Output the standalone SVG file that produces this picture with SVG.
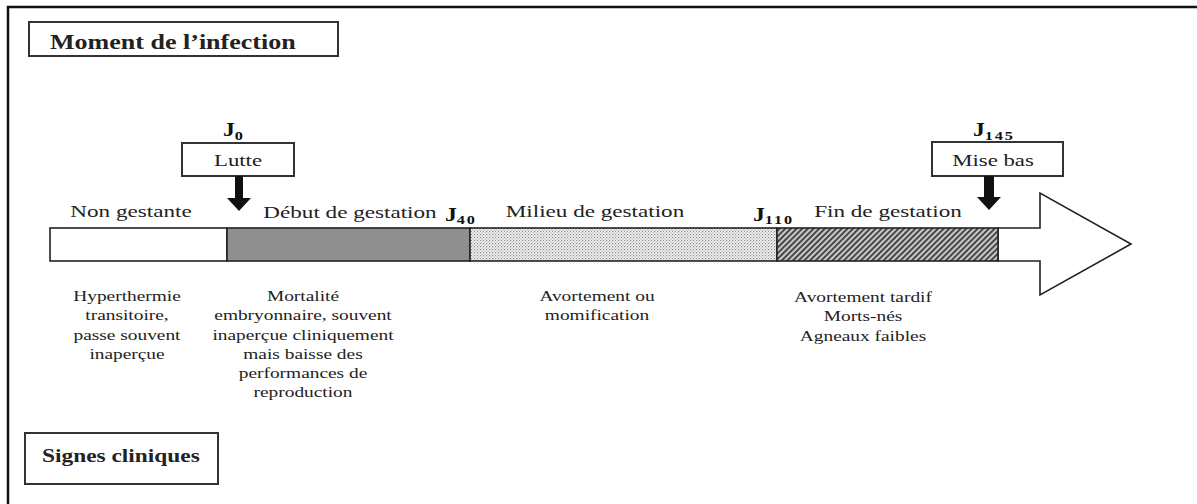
<svg xmlns="http://www.w3.org/2000/svg" width="1197" height="504" viewBox="0 0 1197 504">
<defs>
<style>
text{font-family:"Liberation Serif","Times New Roman",serif}
.t{fill:#222}
.b{font-weight:bold}
.lab{font-size:17px}
.body{font-size:15.5px}
.box{fill:#fff;stroke:#333;stroke-width:2}
.seg{stroke:#222;stroke-width:1.6}
.jj{font-weight:bold;font-size:19px;fill:#111}
</style>
<pattern id="dots" width="3" height="3" patternUnits="userSpaceOnUse">
<rect width="3" height="3" fill="#f4f4f4"/>
<rect x="0" y="0" width="1.2" height="1.2" fill="#8a8a8a"/>
<rect x="1.5" y="1.5" width="1.2" height="1.2" fill="#a8a8a8"/>
</pattern>
<pattern id="hatch" width="4" height="4" patternUnits="userSpaceOnUse" patternTransform="rotate(45)">
<rect width="4" height="4" fill="#c8c8c8"/>
<rect x="0" y="0" width="1.8" height="4" fill="#3a3a3a"/>
</pattern>
</defs>
<rect width="1197" height="504" fill="#fff"/>
<g id="frame"><path d="M8,504 V7 H1197" fill="none" stroke="#111" stroke-width="2.5"/></g>

<g id="title-moment">
<rect class="box" x="29" y="22" width="309" height="34"/>
<text class="t b" font-size="21" transform="translate(50,49) scale(1.24,1)">Moment de l’infection</text>
</g>

<g id="title-signes">
<rect class="box" x="25" y="433" width="193" height="51"/>
<text class="t b" font-size="19.5" transform="translate(42,462) scale(1.2,1)">Signes cliniques</text>
</g>

<g id="node-lutte">
<text class="jj" transform="translate(223,136) scale(1.25,1)">J<tspan font-size="13" dy="4" letter-spacing="1">0</tspan></text>
<rect class="box" x="182" y="143" width="112" height="33" stroke="#222"/>
<text class="t lab" font-family="Liberation Serif, serif" text-anchor="middle" transform="translate(238,166) scale(1.34,1)">Lutte</text>
</g>

<g id="node-misebas">
<text class="jj" transform="translate(973,136) scale(1.25,1)">J<tspan font-size="13" dy="4" letter-spacing="1.5">145</tspan></text>
<rect class="box" x="932" y="142" width="131" height="34" stroke="#222"/>
<text class="t lab" font-family="Liberation Serif, serif" text-anchor="middle" transform="translate(993,166) scale(1.34,1)">Mise bas</text>
</g>

<g id="timeline-arrow">
<polygon points="998,228 1040,228 1040,193 1131,244 1040,295 1040,261 998,261" fill="#fff" stroke="#222" stroke-width="1.6"/>
</g>

<g id="seg-non-gestante">
<rect class="seg" x="50" y="228" width="177" height="33" fill="#fff" stroke="#555"/>
<text class="t lab" font-family="Liberation Serif, serif" text-anchor="middle" transform="translate(131,217) scale(1.36,1)">Non gestante</text>
<text class="t body" text-anchor="middle" transform="translate(127,301) scale(1.25,1)"><tspan x="0" y="0">Hyperthermie</tspan><tspan x="0" y="19.3">transitoire,</tspan><tspan x="0" y="38.6">passe souvent</tspan><tspan x="0" y="57.9">inaperçue</tspan></text>
</g>

<g id="seg-debut">
<rect class="seg" x="227" y="228" width="243" height="33" fill="#8f8f8f"/>
<text class="t lab" font-family="Liberation Serif, serif" text-anchor="middle" transform="translate(350,218) scale(1.36,1)">Début de gestation</text>
<text class="jj" transform="translate(445,221) scale(1.25,1)">J<tspan font-size="13" dy="3" letter-spacing="1.5">40</tspan></text>
<text class="t body" text-anchor="middle" transform="translate(303,301) scale(1.25,1)"><tspan x="0" y="0">Mortalité</tspan><tspan x="0" y="19.3">embryonnaire, souvent</tspan><tspan x="0" y="38.6">inaperçue cliniquement</tspan><tspan x="0" y="57.9">mais baisse des</tspan><tspan x="0" y="77.2">performances de</tspan><tspan x="0" y="96.5">reproduction</tspan></text>
</g>

<g id="seg-milieu">
<rect class="seg" x="470" y="228" width="307" height="33" fill="url(#dots)"/>
<text class="t lab" font-family="Liberation Serif, serif" text-anchor="middle" transform="translate(595,217) scale(1.36,1)">Milieu de gestation</text>
<text class="jj" transform="translate(753,221) scale(1.25,1)">J<tspan font-size="13" dy="3" letter-spacing="1.5">110</tspan></text>
<text class="t body" text-anchor="middle" transform="translate(597,301) scale(1.25,1)"><tspan x="0" y="0">Avortement ou</tspan><tspan x="0" y="19.3">momification</tspan></text>
</g>

<g id="seg-fin">
<rect class="seg" x="777" y="228" width="221" height="33" fill="url(#hatch)"/>
<text class="t lab" font-family="Liberation Serif, serif" text-anchor="middle" transform="translate(888,217) scale(1.36,1)">Fin de gestation</text>
<text class="t body" text-anchor="middle" transform="translate(863,302) scale(1.25,1)"><tspan x="0" y="0">Avortement tardif</tspan><tspan x="0" y="19.3">Morts-nés</tspan><tspan x="0" y="38.6">Agneaux faibles</tspan></text>
</g>

<g id="connectors" fill="#111">
<path d="M235,176 H243 V198 H251 L239,211 L227,198 H235 Z"/>
<path d="M984,176 H994 V197 H1001 L989,210 L977,197 H984 Z"/>
</g>
</svg>
